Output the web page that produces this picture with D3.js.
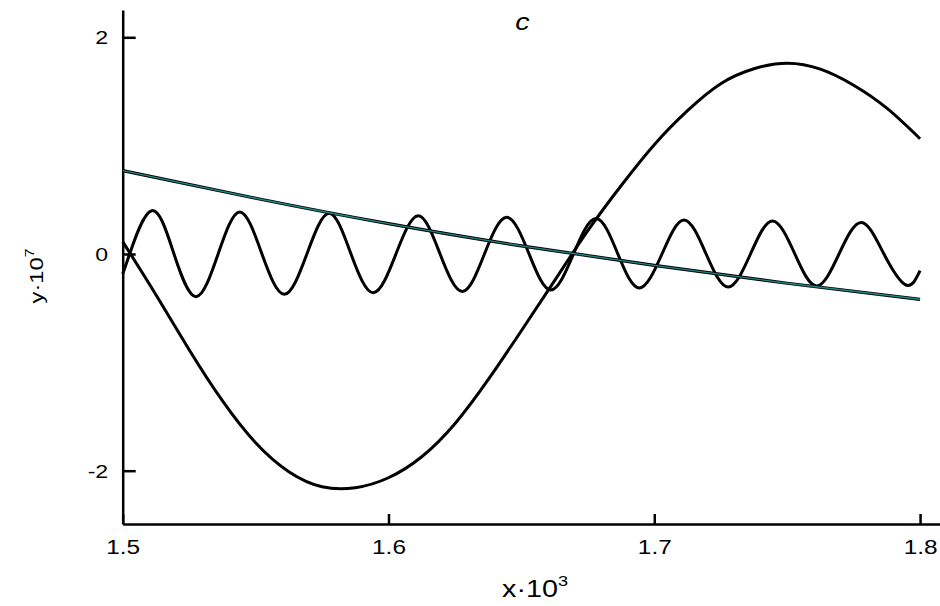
<!DOCTYPE html>
<html>
<head>
<meta charset="utf-8">
<script src="https://cdnjs.cloudflare.com/ajax/libs/d3/7.8.5/d3.min.js"></script>
<style>
  html, body { margin: 0; padding: 0; background: #fff; }
  svg { display: block; font-family: "Liberation Sans", Arial, sans-serif; }
</style>
</head>
<body>
<div class="chart"></div>
<script>
'use strict';

// big wave (x·10^3, y·10^7)
const bigX = [1.5, 1.5125, 1.525, 1.5375, 1.55, 1.5625, 1.575, 1.5875, 1.6, 1.6125,
  1.625, 1.6375, 1.65, 1.6625, 1.675, 1.6875, 1.7, 1.7125, 1.725, 1.7375,
  1.75, 1.7625, 1.775, 1.7875, 1.8];
const bigY = [0.114, -0.376, -0.883, -1.354, -1.742, -2.009, -2.148, -2.157, -2.065, -1.871,
  -1.566, -1.160, -0.708, -0.246, 0.215, 0.630, 1.009, 1.323, 1.572, 1.710,
  1.761, 1.706, 1.558, 1.346, 1.064];

// fast oscillation
const oscX = [1.5, 1.5026, 1.5109, 1.5193, 1.5276, 1.5359, 1.5441, 1.5524, 1.5608, 1.5693,
  1.5777, 1.5859, 1.5943, 1.6028, 1.6112, 1.6194, 1.6278, 1.6361, 1.6445, 1.6529,
  1.6611, 1.6696, 1.6781, 1.6863, 1.6944, 1.7029, 1.7112, 1.7195, 1.7278, 1.7362,
  1.7445, 1.7529, 1.7611, 1.7695, 1.7779, 1.7864, 1.7947, 1.8];
const oscY = [-0.185, 0, 0.400, 0, -0.394, 0, 0.388, 0, -0.372, 0,
  0.376, 0, -0.357, 0, 0.353, 0, -0.346, 0, 0.339, 0,
  -0.332, 0, 0.328, 0, -0.314, 0, 0.314, 0, -0.305, 0,
  0.305, 0, -0.295, 0, 0.291, 0, -0.286, -0.154];

// slow decaying trend (teal)
const trendX = [1.5, 1.55, 1.6, 1.65, 1.7, 1.75, 1.8];
const trendY = [0.769, 0.515, 0.28, 0.075, -0.105, -0.27, -0.418];

const xTicks = [1.5, 1.6, 1.7, 1.8];
const yTicks = [-2, 0, 2];

document.addEventListener('DOMContentLoaded', () => {

  const W = 940, H = 606;
  const left = 122.7, right = 940, top = 10, bottom = 524;
  const stretch = 1.25; // glyphs in the original are drawn wide

  const svg = d3.select(".chart")
    .append("svg")
    .attr("width", W)
    .attr("height", H);

  const xScale = d3.scaleLinear().domain([1.5, 1.8075]).range([left, right]);
  const yScale = d3.scaleLinear().domain([-2.4919, 2.2520]).range([bottom, top]);

  const zip = (xs, ys) => xs.map((x, i) => [x, ys[i]]);

  // axes, ticks pointing inwards
  const xAxis = d3.axisBottom(xScale)
    .tickValues(xTicks)
    .tickSize(-10)
    .tickSizeOuter(0)
    .tickFormat(d3.format(".1f"));
  const yAxis = d3.axisLeft(yScale)
    .tickValues(yTicks)
    .tickSize(-13)
    .tickSizeOuter(0)
    .tickFormat(d => d);

  const gx = svg.append("g")
    .attr("transform", `translate(0,${bottom})`)
    .call(xAxis);
  const gy = svg.append("g")
    .attr("transform", `translate(${left},0)`)
    .call(yAxis);

  [gx, gy].forEach(g => {
    g.selectAll("path, line").attr("stroke", "#000").attr("stroke-width", 2.5);
  });

  gx.selectAll("text")
    .attr("y", null).attr("dy", null)
    .attr("fill", "#000")
    .style("font-size", "19.5px")
    .attr("transform", `translate(0,29.5) scale(${stretch},1)`);

  gy.selectAll("text")
    .attr("x", null)
    .attr("dy", "0.36em")
    .attr("fill", "#000")
    .style("font-size", "18.5px")
    .attr("transform", `translate(-14.5,0) scale(${stretch},1)`);

  // curves
  const line = d3.line()
    .x(d => xScale(d[0]))
    .y(d => yScale(d[1]))
    .curve(d3.curveNatural);

  svg.append("path")
    .datum(zip(bigX, bigY))
    .attr("fill", "none")
    .attr("stroke", "#000")
    .attr("stroke-width", 3)
    .attr("d", line);

  svg.append("path")
    .datum(zip(oscX, oscY))
    .attr("fill", "none")
    .attr("stroke", "#000")
    .attr("stroke-width", 3)
    .attr("d", line);

  const trend = zip(trendX, trendY);
  svg.append("path")
    .datum(trend)
    .attr("fill", "none")
    .attr("stroke", "#000")
    .attr("stroke-width", 3.2)
    .attr("d", line);
  svg.append("path")
    .datum(trend)
    .attr("fill", "none")
    .attr("stroke", "#1f8585")
    .attr("stroke-width", 1.4)
    .attr("d", line);

  // labels
  svg.append("text")
    .attr("transform", `translate(522.5,30) scale(${stretch},1)`)
    .attr("text-anchor", "middle")
    .style("font-size", "23px")
    .style("font-style", "italic")
    .text("c");

  const xl = svg.append("text")
    .attr("transform", `translate(535,597) scale(${stretch},1)`)
    .attr("text-anchor", "middle")
    .style("font-size", "23px")
    .text("x·10");
  xl.append("tspan").attr("dy", -11).style("font-size", "14.5px").text("3");

  const yl = svg.append("text")
    .attr("transform", `translate(43,276) rotate(-90) scale(${stretch},1)`)
    .attr("text-anchor", "middle")
    .style("font-size", "19px")
    .text("y·10");
  yl.append("tspan").attr("dy", -9).style("font-size", "12.5px").text("7");

});
</script>
</body>
</html>
